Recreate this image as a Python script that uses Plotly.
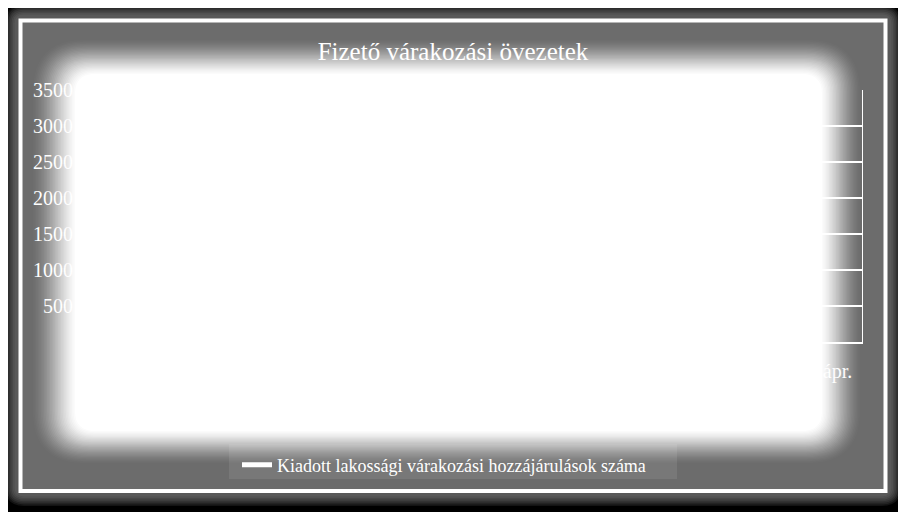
import plotly.graph_objects as go

# havi adatok 2012. jan. - 2013. ápr. (az utolsó hónapra nincs adat)
honapok = ["jan.", "febr.", "márc.", "ápr.", "máj.", "jún.", "júl.", "aug.",
           "szept.", "okt.", "nov.", "dec.", "jan.", "febr.", "márc.", "ápr."]
lakossagi = [2950, 1850, 1620, 1480, 1390, 1310, 1180, 1240,
             1450, 1560, 1420, 1350, 3100, 2050, 1700, None]
vallalkozoi = [820, 540, 470, 430, 410, 380, 350, 360,
               420, 450, 400, 390, 880, 600, 500, None]
yticks = [500, 1000, 1500, 2000, 2500, 3000, 3500]
idx = list(range(len(honapok)))

# a lap 8px-es margoja miatt minden 8px-el eltolva
OFF = 8
W, H = 906 - OFF, 512 - OFF
L, R, T, B = 78, 862, 90, 342
FONT = "Liberation Serif"


def px(x):
    return (x - L) / (R - L)


def py(y):
    return (B - y) / (B - T)


def cx(x):
    return (x - OFF) / W


def cy(y):
    return 1 - (y - OFF) / H


def kerek(x0, y0, x1, y1, r):
    # lekerekitett teglalap pixelben -> paper koordinata path
    r = max(r, 1)
    p = [("M", [(x0 + r, y0)]), ("L", [(x1 - r, y0)]), ("Q", [(x1, y0), (x1, y0 + r)]),
         ("L", [(x1, y1 - r)]), ("Q", [(x1, y1), (x1 - r, y1)]),
         ("L", [(x0 + r, y1)]), ("Q", [(x0, y1), (x0, y1 - r)]),
         ("L", [(x0, y0 + r)]), ("Q", [(x0, y0), (x0 + r, y0)])]
    s = ""
    for cmd, pts in p:
        s += cmd + " ".join("%.5f,%.5f" % (px(a), py(b)) for a, b in pts)
    return s + "Z"


shapes = []
# kulso arnyek a keret korul
for i in range(7):
    d = 13 - i * 1.6
    shapes.append(dict(type="path", xref="paper", yref="paper", layer="below",
                       path=kerek(18 - d, 18 - d, 888 + d, 493 + d, 6 + d),
                       fillcolor="rgba(150,150,150,0.13)", line=dict(width=0)))
# keret
shapes.append(dict(type="rect", xref="paper", yref="paper", layer="below",
                   x0=px(20.5), x1=px(885.5), y0=py(20.5), y1=py(491),
                   fillcolor="#6c6c6c", line=dict(color="white", width=4)))
# jelmagyarazat hattere
shapes.append(dict(type="rect", xref="paper", yref="paper", layer="below",
                   x0=px(229), x1=px(677), y0=py(444), y1=py(479),
                   fillcolor="#787878", line=dict(width=0)))


def smooth(t):
    return 0.5 * t + 0.5 * t * t * (3 - 2 * t)


# feher ragyogas (egymasra rakott attetszo retegek)
n = 28
wl, wt, wr, wb = 21, 17, 19, 16
prev = 0.0
for k in range(1, n + 1):
    u = (k - 1) / (n - 1)
    s = 1 - 2 * u
    c = smooth(k / n)
    a = 1.0 if k == n else 1 - (1 - c) / (1 - prev)
    prev = c
    shapes.append(dict(type="path", xref="paper", yref="paper", layer="above",
                       path=kerek(54 - wl * s, 57 - wt * s, 841 + wr * s, 447 + wb * s, 36 + 16 * s),
                       fillcolor="rgba(255,255,255,%.4f)" % a, line=dict(width=0)))

fig = go.Figure()
fig.add_trace(go.Scatter(x=idx, y=vallalkozoi, mode="lines", showlegend=True,
                         name="Kiadott vállalkozói engedélyek száma",
                         line=dict(color="white", width=5), legend="legend2"))
fig.add_trace(go.Scatter(x=idx, y=lakossagi, mode="lines", showlegend=True,
                         name="Kiadott lakossági várakozási hozzájárulások száma",
                         line=dict(color="white", width=5), legend="legend"))

fig.update_layout(
    width=W, height=H, showlegend=True,
    margin=dict(l=L - OFF, r=906 - R, t=T - OFF, b=512 - B, autoexpand=False),
    paper_bgcolor="black", plot_bgcolor="rgba(0,0,0,0)",
    font=dict(family=FONT, color="white", size=18),
    title=dict(text="Fizető várakozási övezetek", x=cx(453), xref="container", xanchor="center",
               y=cy(51), yref="container", yanchor="middle",
               font=dict(family=FONT, size=25, color="white")),
    shapes=shapes,
    legend=dict(x=cx(237), xref="container", xanchor="left", y=cy(465), yref="container",
                yanchor="middle", bgcolor="rgba(0,0,0,0)", font=dict(size=18, color="white")),
    legend2=dict(x=cx(237), xref="container", xanchor="left", y=cy(420), yref="container",
                 yanchor="middle", bgcolor="rgba(0,0,0,0)", font=dict(size=18, color="white")),
)
fig.update_yaxes(range=[0, 3500], tickvals=yticks, gridcolor="white", gridwidth=1.5,
                 showline=True, mirror=True, linecolor="white", linewidth=1,
                 zeroline=False, tickfont=dict(size=20, color="white"))
fig.update_xaxes(range=[-0.5, len(honapok) - 0.5], tickvals=idx, ticktext=honapok,
                 tickangle=0, showgrid=False, showline=True, linecolor="white", linewidth=1.5,
                 zeroline=False, ticklabelstandoff=10, tickfont=dict(size=20, color="white"))

fig.write_html("out.html")
